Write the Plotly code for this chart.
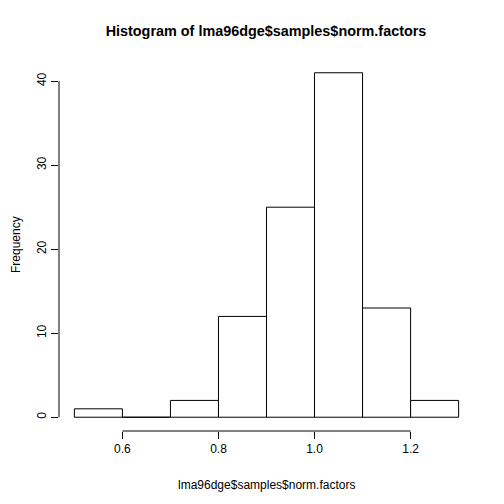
import plotly.graph_objects as go

# histogram of norm.factors, bins of width 0.1
bin_left = [0.5, 0.6, 0.7, 0.8, 0.9, 1.0, 1.1, 1.2]
counts = [1, 0, 2, 12, 25, 41, 13, 2]
bin_width = 0.1
x_ticks = [0.6, 0.8, 1.0, 1.2]
x_tick_text = ["0.6", "0.8", "1.0", "1.2"]
y_ticks = [0, 10, 20, 30, 40]

font = "Liberation Sans, Arial, Helvetica, sans-serif"
W = H = 496  # page body has an 8px margin

# one closed rectangle per bin (so empty bins still show as a line like R does)
fig = go.Figure()
for left, n in zip(bin_left, counts):
    right = left + bin_width
    fig.add_trace(go.Scatter(
        x=[left, left, right, right, left], y=[0, n, n, 0, 0],
        mode="lines", fill="toself", fillcolor="white",
        line=dict(color="black", width=1),
        showlegend=False, hoverinfo="skip",
    ))

# R-style axis lines spanning only the tick range
fig.add_shape(type="line", xref="x", yref="paper",
              x0=x_ticks[0], x1=x_ticks[-1], y0=0, y1=0,
              line=dict(color="black", width=1))
fig.add_shape(type="line", xref="paper", yref="y",
              x0=0, x1=0, y0=y_ticks[0], y1=y_ticks[-1],
              line=dict(color="black", width=1))

lo, hi = bin_left[0], bin_left[-1] + bin_width
xpad = (hi - lo) * 0.04
ypad = max(counts) * 0.04

fig.update_layout(
    width=W, height=H,
    margin=dict(l=51, r=30, t=51, b=73, pad=0),
    paper_bgcolor="white", plot_bgcolor="white",
    font=dict(family=font, size=12, color="black"),
    title=dict(text="<b>Histogram of lma96dge$samples$norm.factors</b>",
               font=dict(size=14.4, family=font, color="black"),
               x=258 / W, xanchor="center", y=1 - 23 / H, yanchor="middle"),
    xaxis=dict(range=[lo - xpad, hi + xpad], showgrid=False, zeroline=False,
               showline=False, tickmode="array", tickvals=x_ticks,
               ticktext=x_tick_text, ticks="outside", ticklen=7,
               tickcolor="black", tickwidth=1, tickfont=dict(size=12)),
    yaxis=dict(range=[-ypad, max(counts) + ypad], showgrid=False,
               zeroline=False, showline=False, tickmode="array",
               tickvals=y_ticks, ticks="outside", ticklen=7,
               tickcolor="black", tickwidth=1, tickangle=-90,
               tickfont=dict(size=12)),
    annotations=[
        dict(text="lma96dge$samples$norm.factors", xref="paper", yref="paper",
             x=0.5, y=0, yshift=-54, xanchor="center", yanchor="middle",
             showarrow=False, font=dict(size=12)),
        dict(text="Frequency", xref="paper", yref="paper", x=0, y=0.5,
             xshift=-43, xanchor="center", yanchor="middle", textangle=-90,
             showarrow=False, font=dict(size=12)),
    ],
)

fig.write_html("out.html")
